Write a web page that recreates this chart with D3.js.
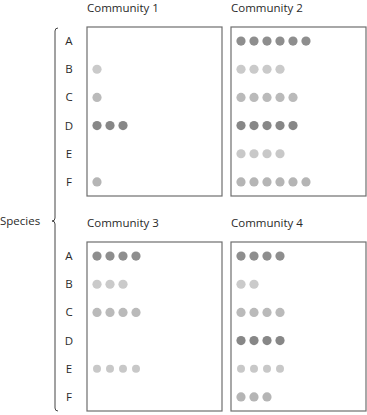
<!DOCTYPE html>
<meta charset="utf-8">
<style>
body { margin: 0; background: #fff; }
text { font-family: "Open Sans", sans-serif; fill: #2a2a2a; }
.box { fill: none; stroke: #6e6e6e; stroke-width: 1.2px; }
.bracket { fill: none; stroke: #444; stroke-width: 1px; }
</style>
<body>
<script src="https://d3js.org/d3.v7.min.js"></script>
<script>

var species = ["A", "B", "C", "D", "E", "F"];
var communities = ["Community 1", "Community 2", "Community 3", "Community 4"];

// number of dots per species, one array per community
var community1 = [0, 1, 1, 3, 0, 1];
var community2 = [6, 4, 5, 5, 4, 6];
var community3 = [4, 3, 4, 0, 4, 0];
var community4 = [4, 2, 4, 4, 4, 3];

var speciesColors = ["#8e8e8e", "#cacaca", "#bababa", "#878787", "#c8c8c8", "#b5b5b5"];

var counts = [community1, community2, community3, community4];

var width = 367, height = 415;

var svg = d3.select("body").append("svg")
    .attr("width", width)
    .attr("height", height);

var col = d3.scaleOrdinal().domain([0, 1]).range([87, 231]),
    row = d3.scaleOrdinal().domain([0, 1]).range([27, 242]),
    boxW = 135, boxH = 169;

var y = d3.scaleBand()
    .domain(species)
    .range([0, boxH]);

var x = d3.scaleLinear()
    .domain([0, 1])
    .range([10, 23]);

var color = d3.scaleOrdinal()
    .domain(species)
    .range(speciesColors);

communities.forEach(function(name, i) {
  var c = i % 2, r = Math.floor(i / 2);
  var g = svg.append("g")
      .attr("transform", "translate(" + col(c) + "," + row(r) + ")");

  g.append("text")
      .attr("x", 0)
      .attr("y", -15)
      .attr("font-size", 11.5)
      .text(name);

  g.append("rect")
      .attr("class", "box")
      .attr("width", boxW)
      .attr("height", boxH);

  if (c === 0) {
    g.selectAll(".label")
        .data(species)
      .enter().append("text")
        .attr("class", "label")
        .attr("x", -18)
        .attr("y", function(d) { return y(d) + y.bandwidth() / 2; })
        .attr("dy", ".35em")
        .attr("text-anchor", "middle")
        .attr("font-size", 11.5)
        .text(function(d) { return d; });
  }

  var dots = [];
  species.forEach(function(s, k) {
    d3.range(counts[i][k]).forEach(function(j) { dots.push({s: s, j: j}); });
  });

  g.selectAll("circle")
      .data(dots)
    .enter().append("circle")
      .attr("cx", function(d) { return x(d.j); })
      .attr("cy", function(d) { return y(d.s) + y.bandwidth() / 2; })
      .attr("r", function(d) { return d.s === "E" && i >= 2 ? 4 : 4.6; })
      .attr("fill", function(d) { return color(d.s); });
});

// curly bracket spanning both rows
var top0 = row(0), bot = row(1) + boxH, mid = 221, bx = 55;
svg.append("path")
    .attr("class", "bracket")
    .attr("d", "M" + (bx + 3) + "," + (top0 + 1) +
               "Q" + bx + "," + (top0 + 1) + " " + bx + "," + (top0 + 4) +
               "L" + bx + "," + (mid - 3) +
               "Q" + bx + "," + mid + " " + (bx - 3) + "," + mid +
               "Q" + bx + "," + mid + " " + bx + "," + (mid + 3) +
               "L" + bx + "," + (bot - 3) +
               "Q" + bx + "," + bot + " " + (bx + 3) + "," + bot);

svg.append("text")
    .attr("x", 0)
    .attr("y", mid)
    .attr("dy", ".35em")
    .attr("font-size", 11.5)
    .text("Species");

</script>
